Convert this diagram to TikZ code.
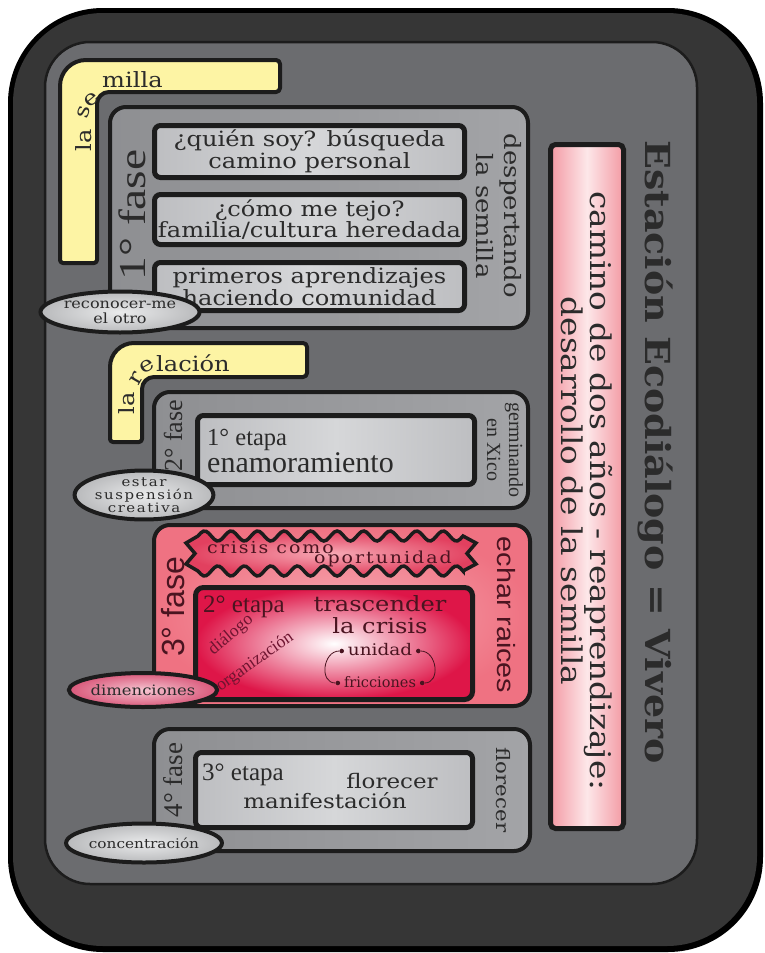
\documentclass[tikz,border=0pt]{standalone}
\usepackage{fontspec}
\setmainfont{Liberation Serif}
\newfontfamily\wideserif[FakeStretch=1.15]{DejaVu Serif}
\newfontfamily\spacedserif[FakeStretch=1.15,LetterSpace=12]{DejaVu Serif}
\newfontfamily\dvserif{DejaVu Serif}
\newfontfamily\titleface[FakeStretch=1.1]{DejaVu Serif}
\newfontfamily\timeswide[FakeStretch=1.25]{Liberation Serif}
\newfontfamily\arialf{Liberation Sans}
\newfontfamily\arialwide[FakeStretch=1.15]{Liberation Sans}
\usetikzlibrary{shapes.geometric,arrows.meta,calc}
\newcommand\fsz[2]{\fontsize{#1}{#2}\selectfont}
\definecolor{panelc}{HTML}{6B6C6F}
\definecolor{framec}{HTML}{363636}
\definecolor{phaseL}{HTML}{8E8F92}
\definecolor{phaseR}{HTML}{A3A4A7}
\definecolor{itemD}{HTML}{BDBEC1}
\definecolor{itemL}{HTML}{D6D7D9}
\definecolor{tabc}{HTML}{FDF4A4}
\definecolor{inkc}{HTML}{2B2B2B}
\definecolor{pinkE}{HTML}{F39AA4}
\definecolor{pinkM}{HTML}{FDE7E9}
\definecolor{roseO}{HTML}{EF7282}
\definecolor{roseI}{HTML}{F7AAB3}
\definecolor{crimson}{HTML}{DE1648}
\definecolor{zigO}{HTML}{E2405F}
\definecolor{zigI}{HTML}{F7A9B5}
\definecolor{maroon}{HTML}{4A1420}
\definecolor{wine}{HTML}{6E1430}
\definecolor{ovalO}{HTML}{B9BABC}
\definecolor{ovalI}{HTML}{EAEBEC}
\definecolor{ovalPO}{HTML}{D9587A}
\definecolor{ovalPI}{HTML}{F6C6D2}
\definecolor{edge}{HTML}{1C1C1C}
\begin{document}
\begin{tikzpicture}[x=1pt,y=-1pt,
  ink/.style={text=inkc,inner sep=0pt,align=center},
  phasebox/.style={draw=edge,line width=4pt,rounded corners=16pt,left color=phaseL,right color=phaseR,inner sep=0pt},
  itembox/.style={draw=edge,line width=5pt,rounded corners=6pt,left color=itemD,right color=itemD,middle color=itemL,inner sep=0pt,text=inkc,align=center},
  oval/.style={ellipse,draw=edge,line width=4pt,inner sep=0pt,inner color=ovalI,outer color=ovalO,text=inkc,align=center},
  tabshape/.style={draw=edge,line width=4pt,fill=tabc,line join=round},
  fasetxt/.style={text=inkc,inner sep=0pt,rotate=90},
  sidetxt/.style={text=inkc,inner sep=0pt,rotate=-90,align=center},
  tabtxt/.style={text=inkc,inner sep=0pt,font=\wideserif\fsz{21}{21}}]
\useasboundingbox (0,0) rectangle (764,953);
\fill[white] (0,0) rectangle (764,953);
% outer frame and panel
\fill[black,rounded corners=95pt] (8,8) rectangle (763,952);
\fill[framec,rounded corners=90pt] (13,13) rectangle (757,946);
\draw[edge,line width=2.5pt,fill=panelc,rounded corners=45pt] (45,42) rectangle (697,884);
% yellow tabs
\draw[tabshape] (60,263) [rounded corners=26pt] -- (60,60) [rounded corners=4pt] -- (280,60) -- (280,92) [rounded corners=12pt] -- (97,92) [rounded corners=3pt] -- (97,263) -- cycle;
\draw[tabshape] (110,442) [rounded corners=24pt] -- (110,343) [rounded corners=4pt] -- (307,343) -- (307,377) [rounded corners=12pt] -- (142,377) [rounded corners=3pt] -- (142,442) -- cycle;
\node[tabtxt,rotate=90,anchor=base] (sla) at (91,140) {la};
\node[tabtxt,rotate=75,anchor=base] (ss) at (89,114) {s};
\node[tabtxt,rotate=40,anchor=base] (se) at (95,104) {e};
\node[tabtxt,anchor=base west] (smilla) at (102,87) {milla};
\node[tabtxt,rotate=90,anchor=base] (rla) at (134,403) {la};
\node[tabtxt,rotate=60,anchor=base] (rr) at (141,381) {r};
\node[tabtxt,rotate=30,anchor=base] (re) at (150,371) {e};
\node[tabtxt,anchor=base west] (rlacion) at (156,371) {lación};
% phase boxes
\node[phasebox,minimum width=418pt,minimum height=221pt] (f1) at (319,217.5) {};
\node[phasebox,minimum width=374pt,minimum height=116pt] (f2) at (341,450) {};
\node[phasebox,inner color=roseI,outer color=roseO,minimum width=376pt,minimum height=181pt] (f3) at (342,615.5) {};
\node[phasebox,minimum width=376pt,minimum height=122pt] (f4) at (342,790) {};
% side pink box
\node[draw=edge,line width=5pt,rounded corners=5pt,left color=pinkE,right color=pinkE,middle color=pinkM,minimum width=73pt,minimum height=684pt,inner sep=0pt] (side) at (587,486.5) {};
\node[sidetxt,font=\wideserif\fsz{28.5}{26.5}] (sidetext) at (587,491) {camino de dos años - reaprendizaje:\\desarrollo de la semilla};
\node[sidetxt,font=\titleface\bfseries\fsz{34.5}{34.5}] (title) at (655,452) {Estación Ecodiálogo = Vivero};
% phase 1 items
\node[itembox,minimum width=310pt,minimum height=52pt,font=\wideserif\fsz{21}{18.5}] (qa) at (309.5,151.5) {¿quién soy? búsqueda\\camino personal};
\node[itembox,minimum width=310pt,minimum height=50pt,font=\wideserif\fsz{21}{18.5}] (qb) at (309.5,219.5) {¿cómo me tejo?\\familia/cultura heredada};
\node[itembox,minimum width=310pt,minimum height=48pt,font=\wideserif\fsz{21}{18.5}] (qc) at (309.5,286.5) {primeros aprendizajes\\haciendo comunidad};
\node[fasetxt,font=\timeswide\fsz{38}{38}] (l1) at (132,215) {1° fase};
\node[sidetxt,font=\wideserif\fsz{22.5}{28}] (r1) at (499,216) {despertando\\la semilla};
% phase 2
\node[itembox,minimum width=277pt,minimum height=69pt] (e1) at (336,450) {};
\node[ink,anchor=base west,font=\fsz{24.5}{24.5}] (e1a) at (207,445) {1° etapa};
\node[ink,anchor=base west,font=\fsz{30}{30}] (e1b) at (207,472) {enamoramiento};
\node[fasetxt,font=\fsz{26}{26}] (l2) at (173,436) {2° fase};
\node[sidetxt,font=\fsz{20}{22}] (r2) at (505,450) {germinando\\en Xico};
% phase 3
\draw[draw=edge,line width=3.5pt,line join=miter,inner color=zigI,outer color=zigO]
  plot[domain=198:463,samples=100] (\x,{536-5*sin(13.585*(\x-198))})
  -- (476,543) -- (467,553.5) -- (476,564) -- (463,571)
  -- plot[domain=463:198,samples=100] (\x,{571+5*sin(13.585*(\x-198))})
  -- (186,564) -- (195,553.5) -- (186,543) -- cycle;
\node[inner sep=0pt,text=maroon,anchor=base west,font=\spacedserif\fsz{16.5}{16.5}] (cz1) at (207,553) {crisis como};
\node[inner sep=0pt,text=maroon,anchor=base east,font=\spacedserif\fsz{16.5}{16.5}] (cz2) at (452,563) {oportunidad};
\node[draw=edge,line width=5pt,rounded corners=8pt,inner color=white,outer color=crimson,minimum width=277pt,minimum height=112pt,inner sep=0pt] (e2) at (334,643.5) {};
\node[inner sep=0pt,text=maroon,anchor=base west,font=\fsz{25}{25}] (e2a) at (203,612) {2° etapa};
\node[inner sep=0pt,text=maroon,align=center,font=\wideserif\fsz{21}{22}] (tc) at (380,615) {trascender\\la crisis};
\node[inner sep=0pt,text=wine,rotate=40,font=\fsz{17.5}{17.5}] (dl) at (231,635) {diálogo};
\node[inner sep=0pt,text=wine,rotate=35,font=\fsz{17.5}{17.5}] (og) at (255,662) {organización};
\node[inner sep=0pt,text=maroon,font=\wideserif\fsz{16}{16}] (un) at (380,650) {unidad};
\node[inner sep=0pt,text=maroon,font=\dvserif\fsz{14.5}{14.5}] (fr) at (380,682) {fricciones};
\node[circle,fill=maroon,inner sep=1.6pt] (ul) at ($(un.west)+(-6,1)$) {};
\node[circle,fill=maroon,inner sep=1.6pt] (ur) at ($(un.east)+(6,1)$) {};
\node[circle,fill=maroon,inner sep=1.6pt] (fl) at ($(fr.west)+(-6,1)$) {};
\node[circle,fill=maroon,inner sep=1.6pt] (fri) at ($(fr.east)+(6,1)$) {};
\draw[maroon,line width=0.8pt] (ul) to[out=180,in=180,looseness=1.3] (fl);
\draw[maroon,line width=0.8pt] (fri) to[out=0,in=0,looseness=1.3] (ur);
\node[fasetxt,text=maroon,font=\arialf\fsz{32}{32}] (l3) at (173,607) {3° fase};
\node[sidetxt,text=maroon,font=\arialwide\fsz{25}{25}] (r3) at (506,615) {echar raices};
% phase 4
\node[itembox,minimum width=277pt,minimum height=75pt] (e3) at (334,790) {};
\node[ink,anchor=base west,font=\fsz{25}{25}] (e3a) at (202,780) {3° etapa};
\node[ink,anchor=base,font=\wideserif\fsz{20}{20}] (e3b) at (392,788) {florecer};
\node[ink,anchor=base,font=\wideserif\fsz{20}{20}] (e3c) at (325,808) {manifestación};
\node[fasetxt,font=\fsz{27}{27}] (l4) at (173,780) {4° fase};
\node[sidetxt,font=\wideserif\fsz{18.5}{18.5}] (r4) at (503,790) {florecer};
% ovals
\node[oval,minimum width=131pt,minimum height=41pt,font=\wideserif\fsz{14}{15}] (o1) at (120,312) {reconocer-me\\el otro};
\node[oval,minimum width=131pt,minimum height=40pt,font=\spacedserif\fsz{13}{12.8}] (o2) at (144,495) {estar\\suspensión\\creativa};
\node[oval,inner color=ovalPI,outer color=ovalPO,minimum width=133pt,minimum height=34pt,font=\wideserif\fsz{14.3}{14}] (o3) at (143,690) {dimenciones};
\node[oval,minimum width=131pt,minimum height=39pt,font=\wideserif\fsz{13.3}{14}] (o4) at (144,843) {concentración};
\end{tikzpicture}
\end{document}
